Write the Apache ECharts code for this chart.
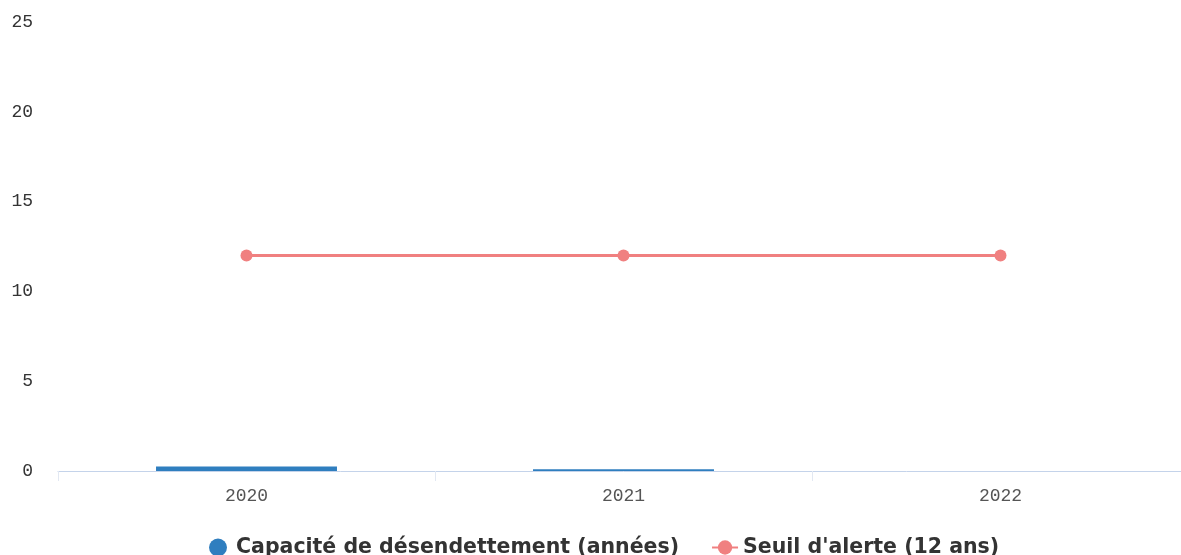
<!DOCTYPE html>
<html>
<head>
<meta charset="utf-8">
<script src="https://cdn.jsdelivr.net/npm/echarts@6/dist/echarts.min.js"></script>
<style>
  html, body { margin: 0; padding: 0; background: #fff; overflow: hidden; }
  #chart { width: 1189px; height: 555px; }
</style>
</head>
<body>
<div id="chart"></div>
<script>
var years = ['2020', '2021', '2022']
var capacite = [0.25, 0.1, 0]
var seuil = [12, 12, 12]
var yTicks = [0, 5, 10, 15, 20, 25]

// le graphique déborde un peu à droite comme dans la capture
var myChart = echarts.init(document.getElementById('chart'))
var option = {
  animation: false,
  grid: {
    top: 22,
    left: 58,
    right: 0,
    height: 449
  },
  legend: {
    top: 532,
    left: 204,
    itemGap: 32,
    itemWidth: 26,
    itemHeight: 18,
    textStyle: {
      fontFamily: 'DejaVu Sans',
      fontWeight: 'bold',
      fontSize: 20.5,
      color: '#333'
    },
    data: [
      { name: 'Capacité de désendettement (années)', icon: 'circle' },
      { name: "Seuil d'alerte (12 ans)" }
    ]
  },
  xAxis: {
    type: 'category',
    data: years,
    axisLine: { lineStyle: { color: '#c4d3ea' } },
    axisTick: { show: true, lineStyle: { color: '#e2e8f2' }, length: 10 },
    axisLabel: {
      color: '#555',
      fontFamily: 'Liberation Mono',
      fontSize: 18,
      margin: 16
    }
  },
  yAxis: {
    type: 'value',
    min: yTicks[0],
    max: yTicks[yTicks.length - 1],
    interval: 5,
    splitLine: { show: false },
    axisLine: { show: false },
    axisTick: { show: false },
    axisLabel: {
      color: '#333',
      fontFamily: 'Liberation Mono',
      fontSize: 18,
      margin: 25
    }
  },
  series: [
    {
      name: 'Capacité de désendettement (années)',
      type: 'bar',
      data: capacite,
      barWidth: '48%',
      itemStyle: { color: '#2f7ebf' }
    },
    {
      name: "Seuil d'alerte (12 ans)",
      type: 'line',
      data: seuil,
      symbol: 'circle',
      symbolSize: 12,
      lineStyle: { color: '#f08080', width: 3 },
      itemStyle: { color: '#f08080' }
    }
  ]
}
myChart.setOption(option)
</script>
</body>
</html>
